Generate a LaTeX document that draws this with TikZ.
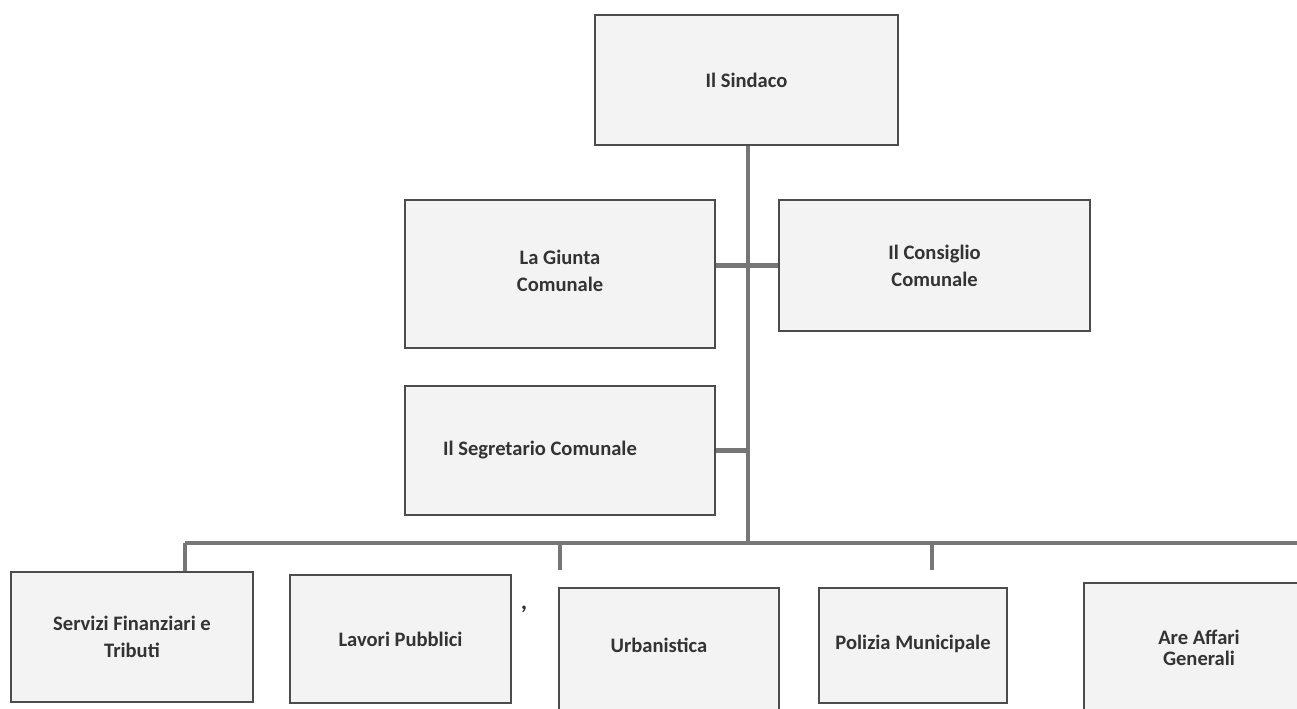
\documentclass[tikz,border=0pt]{standalone}
\usepackage{xcolor}
\usepackage{fontspec}
\setmainfont{Carlito}
\usepackage{tikz}
\usetikzlibrary{positioning,calc}
\definecolor{linegray}{HTML}{767676}
\definecolor{boxgray}{HTML}{F3F3F3}
\definecolor{textgray}{HTML}{333333}

\begin{document}
\begin{tikzpicture}[x=0.02cm,y=-0.02cm,
  box/.style={draw=black!70,line width=0.7pt,fill=boxgray,align=center,text=textgray,
    font=\bfseries\fontsize{11.7}{15.5}\selectfont,inner sep=0pt},
  link/.style={draw=linegray,line width=2.6pt}]
\useasboundingbox (0,0) rectangle (1297,709);
\clip (0,0) rectangle (1297,709);
\node[box,minimum width=6.06cm,minimum height=2.6cm] (sindaco) at (746.5,80) {Il Sindaco};
\node[box,minimum width=6.2cm,minimum height=2.96cm] (giunta) at (560,274) {\raisebox{0.12cm}{La Giunta}\\\raisebox{0.12cm}{Comunale}};
\node[box,minimum width=6.22cm,minimum height=2.62cm] (consiglio) at (934.5,265.5) {Il Consiglio\\Comunale};
\node[box,minimum width=6.2cm,minimum height=2.58cm] (segretario) at (560,450.5) {Il Segretario Comunale\hspace*{0.8cm}};
\node[box,minimum width=4.84cm,minimum height=2.6cm] (servizi) at (132,637) {Servizi Finanziari e\\Tributi};
\node[box,minimum width=4.42cm,minimum height=2.56cm] (lavori) at (400.5,639) {Lavori Pubblici};
\node[box,minimum width=4.4cm,minimum height=2.56cm] (urbanistica) at (669,652) {\raisebox{0.26cm}{Urbanistica}\hspace*{0.4cm}};
\node[box,minimum width=3.76cm,minimum height=2.3cm] (polizia) at (913,645.5) {\raisebox{0.14cm}{Polizia Municipale}};
\node[box,minimum width=4.6cm,minimum height=2.6cm,font=\bfseries\fontsize{11.7}{12}\selectfont] (affari) at (1199,648) {Are Affari\\Generali};
\node[text=textgray,font=\bfseries\fontsize{14}{14}\selectfont] (virgola) at (524,609) {,};
% tronco e rami
\coordinate (bus) at (748,543);
\coordinate (busL) at (185,543);
\coordinate (busR) at (1320,543);
\draw[link] (sindaco.south -| bus) -- (bus);
\draw[link] (giunta.east |- consiglio.west) -- (consiglio.west);
\draw[link] (segretario.east) -- (segretario.east -| bus);
\draw[link] (busL) -- (busR);
\draw[link] (busL) -- (servizi.north -| busL);
\foreach \x/\n in {560/urba,932/poli} {
  \coordinate (\n) at (\x,570);
  \draw[link] (\n |- bus) -- (\n);
}
\end{tikzpicture}
\end{document}
